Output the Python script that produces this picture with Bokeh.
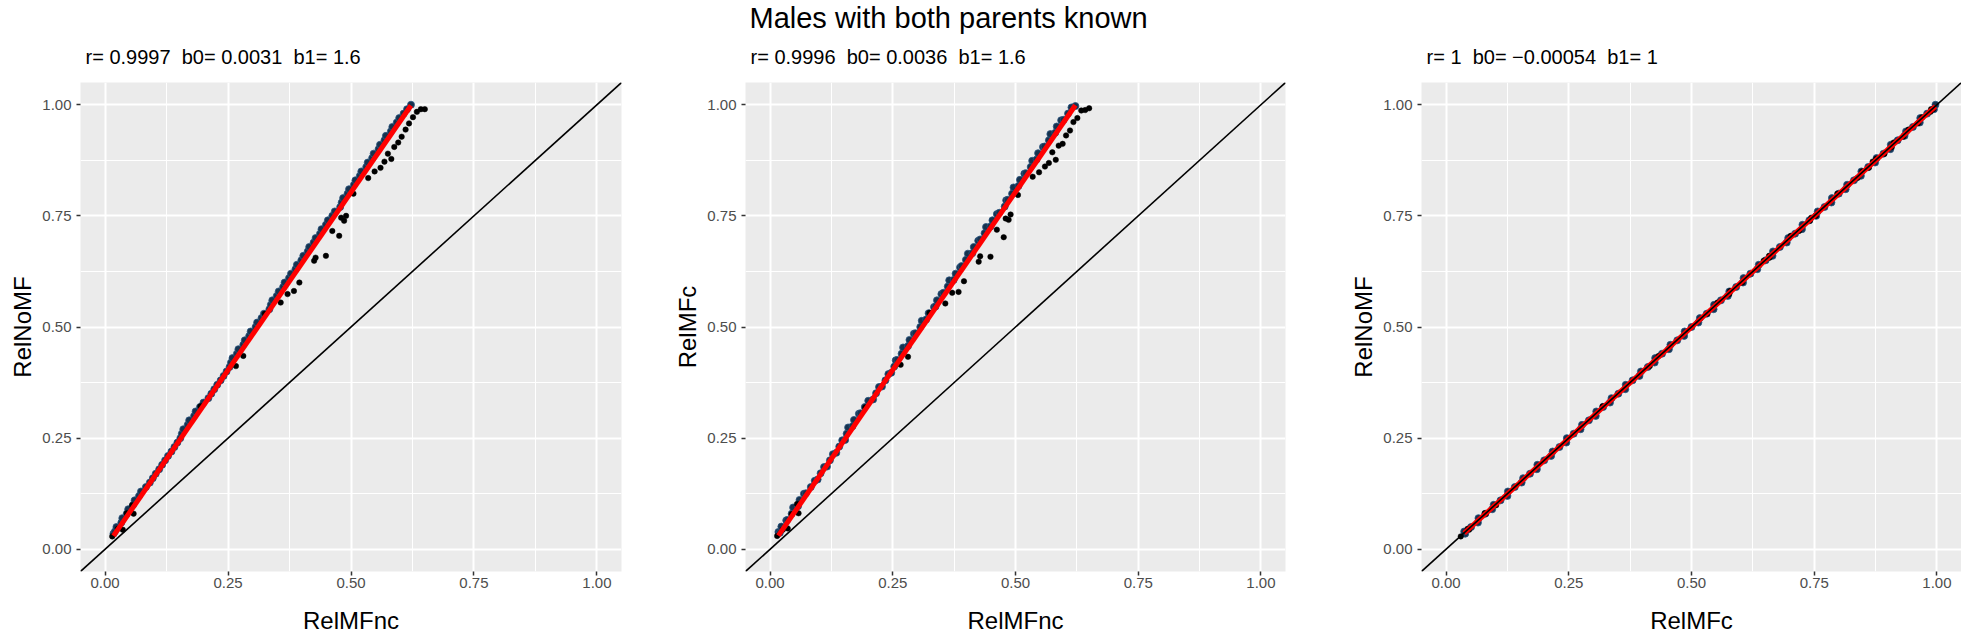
from bokeh.plotting import figure
from bokeh.models import Range1d, FixedTicker, NumeralTickFormatter, Title, Slope
from bokeh.layouts import row
from bokeh.embed import file_html
from bokeh.resources import INLINE

FONT = "Liberation Sans"
SP2 = "\u00a0 "

main_title = "Males with both parents known"
panel_titles = ["r= 0.9997" + SP2 + "b0= 0.0031" + SP2 + "b1= 1.6",
                "r= 0.9996" + SP2 + "b0= 0.0036" + SP2 + "b1= 1.6",
                "r= 1" + SP2 + "b0= \u22120.00054" + SP2 + "b1= 1"]
x_labels = ["RelMFnc", "RelMFnc", "RelMFc"]
y_labels = ["RelNoMF", "RelMFc", "RelNoMF"]
b0 = [0.0031, 0.0036, -0.00054]
b1 = [1.6, 1.6, 1.0]
tick_values = [0.0, 0.25, 0.5, 0.75, 1.0]
minor_values = [0.125, 0.375, 0.625, 0.875]

# dense band of points
band_relnomf = [0.035, 0.040, 0.050, 0.060, 0.070, 0.080, 0.090, 0.100, 0.110, 0.120, 0.130, 0.140,
                0.150, 0.160, 0.170, 0.180, 0.190, 0.200, 0.210, 0.220, 0.230, 0.240, 0.250,
                0.260, 0.270, 0.280, 0.290, 0.300, 0.310, 0.320, 0.330,
                0.340, 0.350, 0.360, 0.370, 0.380, 0.390, 0.400, 0.410,
                0.420, 0.430, 0.440, 0.450, 0.460, 0.470, 0.480, 0.490, 0.500, 0.510, 0.520, 0.530, 0.540,
                0.550, 0.560, 0.570, 0.580, 0.590, 0.600, 0.610, 0.620, 0.630, 0.640, 0.650, 0.660, 0.670,
                0.680, 0.690, 0.700, 0.710, 0.720, 0.730, 0.740, 0.750, 0.760, 0.770,
                0.780, 0.790, 0.800, 0.810, 0.820, 0.830, 0.840, 0.850, 0.860, 0.870, 0.880, 0.890,
                0.900, 0.910, 0.920, 0.930, 0.940, 0.950, 0.960, 0.970, 0.980, 0.990, 1.000]
band_relmfnc = [0.017, 0.020, 0.023, 0.033, 0.035, 0.044, 0.047, 0.057, 0.060, 0.069, 0.073, 0.083,
                0.091, 0.097, 0.103, 0.110, 0.116, 0.122, 0.128, 0.135, 0.141, 0.147, 0.153,
                0.156, 0.159, 0.168, 0.171, 0.181, 0.184, 0.193, 0.200,
                0.210, 0.216, 0.222, 0.228, 0.235, 0.241, 0.247, 0.253,
                0.256, 0.259, 0.268, 0.271, 0.281, 0.284, 0.293, 0.296, 0.306, 0.309, 0.318, 0.323, 0.334,
                0.337, 0.340, 0.349, 0.353, 0.362, 0.365, 0.374, 0.378, 0.387, 0.390, 0.399, 0.403, 0.412,
                0.415, 0.424, 0.428, 0.437, 0.440, 0.449, 0.453, 0.462, 0.467, 0.478,
                0.481, 0.484, 0.493, 0.496, 0.506, 0.509, 0.518, 0.521, 0.531, 0.534, 0.543, 0.546,
                0.556, 0.559, 0.568, 0.571, 0.581, 0.584, 0.593, 0.598, 0.607, 0.614, 0.622]
band_relmfc = [0.039, 0.037, 0.051, 0.065, 0.066, 0.080, 0.094, 0.097, 0.111, 0.125, 0.126, 0.140,
               0.154, 0.157, 0.171, 0.185, 0.186, 0.200, 0.214, 0.217, 0.231, 0.245, 0.246,
               0.260, 0.274, 0.277, 0.291, 0.305, 0.306, 0.320, 0.334,
               0.337, 0.351, 0.365, 0.366, 0.380, 0.394, 0.397, 0.411,
               0.425, 0.426, 0.440, 0.454, 0.457, 0.471, 0.485, 0.486, 0.500, 0.514, 0.517, 0.531, 0.545,
               0.546, 0.560, 0.574, 0.577, 0.591, 0.605, 0.606, 0.620, 0.634, 0.637, 0.651, 0.665, 0.666,
               0.680, 0.694, 0.697, 0.711, 0.725, 0.726, 0.740, 0.754, 0.757, 0.771,
               0.785, 0.786, 0.800, 0.814, 0.817, 0.831, 0.845, 0.846, 0.860, 0.874, 0.877, 0.891,
               0.905, 0.906, 0.920, 0.934, 0.937, 0.951, 0.965, 0.966, 0.980, 0.994, 0.997]

# scattered (black) points
out_relmfnc = [0.0145, 0.026, 0.036, 0.044, 0.055, 0.058, 0.194, 0.266, 0.281, 0.325,
               0.357, 0.371, 0.384, 0.395, 0.425, 0.428, 0.449, 0.462, 0.476, 0.486,
               0.480, 0.490, 0.505, 0.535, 0.548, 0.560, 0.568, 0.575, 0.582, 0.588,
               0.596, 0.603, 0.611, 0.618, 0.626, 0.634, 0.642, 0.650]
out_relnomf = [0.029, 0.046, 0.044, 0.081, 0.099, 0.080, 0.322, 0.412, 0.435, 0.530,
               0.555, 0.574, 0.581, 0.600, 0.649, 0.656, 0.660, 0.716, 0.705, 0.739,
               0.746, 0.750, 0.800, 0.835, 0.850, 0.858, 0.872, 0.890, 0.878, 0.905,
               0.915, 0.928, 0.944, 0.958, 0.972, 0.984, 0.990, 0.990]
out_relmfc = [0.030, 0.044, 0.047, 0.079, 0.102, 0.081, 0.319, 0.415, 0.433, 0.532,
              0.553, 0.577, 0.579, 0.603, 0.647, 0.659, 0.658, 0.719, 0.702, 0.741,
              0.744, 0.753, 0.797, 0.838, 0.848, 0.861, 0.869, 0.893, 0.876, 0.908,
              0.912, 0.931, 0.942, 0.961, 0.970, 0.987, 0.988, 0.992]

band = {"RelMFnc": band_relmfnc, "RelNoMF": band_relnomf, "RelMFc": band_relmfc}
outs = {"RelMFnc": out_relmfnc, "RelNoMF": out_relnomf, "RelMFc": out_relmfc}

HEIGHT = 641
widths = [650, 675, 636]
left_borders = [80, 95, 96]
right_borders = [29, 40, 0]


def make_panel(i):
    p = figure(width=widths[i], height=HEIGHT, output_backend="svg", toolbar_location=None,
               title=None, x_range=Range1d(-0.05, 1.05), y_range=Range1d(-0.05, 1.05),
               min_border_left=left_borders[i], min_border_right=right_borders[i],
               min_border_top=82, min_border_bottom=HEIGHT - 571)
    p.background_fill_color = "#EBEBEB"
    p.border_fill_color = "white"
    p.outline_line_color = None

    for ax in (p.xaxis[0], p.yaxis[0]):
        ax.ticker = FixedTicker(ticks=tick_values, minor_ticks=minor_values)
        ax.formatter = NumeralTickFormatter(format="0.00")
        ax.axis_line_color = None
        ax.major_tick_line_color = "#333333"
        ax.major_tick_line_width = 1.5
        ax.major_tick_in = 0
        ax.major_tick_out = 4
        ax.minor_tick_line_color = None
        ax.major_label_text_font = FONT
        ax.major_label_text_font_size = "15px"
        ax.major_label_text_color = "#4D4D4D"
        ax.axis_label_text_font = FONT
        ax.axis_label_text_font_size = "24px"
        ax.axis_label_text_font_style = "normal"
        ax.axis_label_text_color = "black"
    p.xaxis.axis_label = x_labels[i]
    p.yaxis.axis_label = y_labels[i]
    p.xaxis.major_label_standoff = 2
    p.yaxis.major_label_standoff = 5
    p.xaxis.axis_label_standoff = 16
    p.yaxis.axis_label_standoff = 3

    for g in (p.xgrid[0], p.ygrid[0]):
        g.ticker = FixedTicker(ticks=tick_values, minor_ticks=minor_values)
        g.grid_line_color = "white"
        g.grid_line_width = 2
        g.minor_grid_line_color = "white"
        g.minor_grid_line_width = 1

    xk = x_labels[i]
    yk = y_labels[i]
    bx = band[xk]
    by = band[yk]
    p.scatter(bx, by, size=7, fill_color="#17324D", line_color="#2A5580", line_width=0.8)
    p.scatter(outs[xk], outs[yk], size=5.5, fill_color="black", line_color="black", line_width=0.5)

    xs = [min(bx), max(bx)]
    ys = [b0[i] + b1[i] * v for v in xs]
    p.line(xs, ys, line_color="#FF0000", line_width=5)

    p.add_layout(Slope(gradient=1, y_intercept=0, line_color="black", line_width=1.6))

    p.add_layout(Title(text=panel_titles[i], text_font=FONT, text_font_size="20px",
                       text_font_style="normal", text_color="black", align="left",
                       offset=5, standoff=30), "above")
    if i == 1:
        p.add_layout(Title(text=main_title, text_font=FONT, text_font_size="29px",
                           text_font_style="normal", text_color="black", align="left",
                           offset=4, standoff=-11), "above")
    return p


panels = [make_panel(i) for i in range(3)]
layout = row(*panels)

open("out.html", "w").write(file_html(layout, INLINE))
